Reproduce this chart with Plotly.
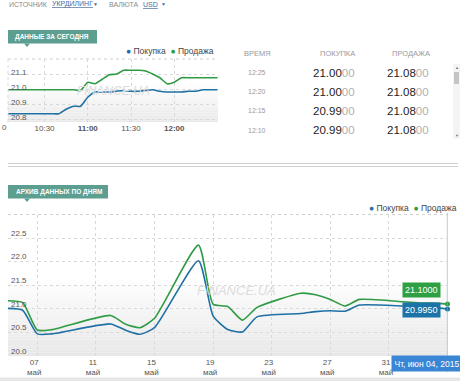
import plotly.graph_objects as go

W, H = 460, 381
def px(x): return x / W
def py(y): return 1 - y / H

BLUE = "#1f70a4"
GREEN = "#2f9b45"
BOX_GREEN = "#2ea043"
BOX_BLUE = "#1b73a8"
TEAL = "#5c9e8f"
FONT = "Liberation Sans, Arial, sans-serif"
NARROW = "Liberation Sans Narrow, Liberation Sans, Arial, sans-serif"

# ---------------- Data: today (intraday) ----------------
intraday_times = ["10:00", "10:05", "10:10", "10:15", "10:20", "10:25", "10:30", "10:35",
                  "10:40", "10:45", "10:50", "10:55", "11:00", "11:05", "11:10", "11:15",
                  "11:20", "11:25", "11:30", "11:35", "11:40", "11:45", "11:50", "11:55",
                  "12:00", "12:05", "12:10", "12:15", "12:20", "12:25", "12:30"]
intraday_buy = [20.84, 20.84, 20.84, 20.84, 20.84, 20.84, 20.84, 20.84,
                20.84, 20.87, 20.89, 20.89, 20.95, 20.985, 20.985, 20.985,
                20.99, 20.995, 20.99, 20.99, 20.995, 21.0, 20.99, 20.985,
                20.985, 20.985, 20.99, 20.99, 21.0, 21.0, 21.0]
intraday_sell = [21.0, 21.0, 21.0, 21.0, 21.0, 21.0, 21.0, 21.0,
                 21.0, 21.0, 21.0, 20.995, 21.05, 21.04, 21.07, 21.10,
                 21.105, 21.13, 21.13, 21.13, 21.125, 21.105, 21.08, 21.04,
                 21.05, 21.08, 21.08, 21.08, 21.08, 21.08, 21.08]
intraday_ticks = ["10:30", "11:00", "11:30", "12:00"]
intraday_ticktext = ["10:30", "<b>11:00</b>", "11:30", "<b>12:00</b>"]
intraday_yticks = [20.8, 20.9, 21.0, 21.1]

# ---------------- Data: table ----------------
table_times = ["12:25", "12:20", "12:15", "12:10"]
table_buy = [21.00, 21.00, 20.99, 20.99]
table_sell = [21.08, 21.08, 21.08, 21.08]

# ---------------- Data: daily archive ----------------
daily_dates = ["2015-05-05", "2015-05-06", "2015-05-07", "2015-05-08", "2015-05-12",
               "2015-05-13", "2015-05-14", "2015-05-15", "2015-05-18", "2015-05-19",
               "2015-05-20", "2015-05-21", "2015-05-22", "2015-05-25", "2015-05-26",
               "2015-05-27", "2015-05-28", "2015-05-29", "2015-06-01", "2015-06-02",
               "2015-06-03", "2015-06-04"]
daily_buy = [21.01, 20.97, 20.47, 20.47, 20.68, 20.55, 20.46, 20.60, 22.02, 20.85,
             20.56, 20.51, 20.83, 20.90, 20.94, 20.96, 20.95, 21.08, 21.06, 21.05,
             21.03, 20.995]
daily_sell = [21.17, 21.13, 20.55, 20.56, 20.86, 20.68, 20.60, 20.80, 22.35, 21.10,
              21.05, 20.76, 21.03, 21.33, 21.30, 21.20, 21.06, 21.20, 21.15, 21.13,
              21.12, 21.10]
daily_ticks = ["2015-05-07", "2015-05-11", "2015-05-15", "2015-05-19",
               "2015-05-23", "2015-05-27", "2015-05-31"]
daily_ticktext = ["07<br>май", "11<br>май", "15<br>май", "19<br>май",
                  "23<br>май", "27<br>май", "31<br>май"]
daily_yticks = [20.0, 20.5, 21.0, 21.5, 22.0, 22.5]
tooltip_text = "Чт, июн 04, 2015"

day = "2015-06-04 "
ix = [day + t for t in intraday_times]

fig = go.Figure()
spl = dict(shape="spline", smoothing=0.55)
fig.add_trace(go.Scatter(x=ix, y=intraday_sell, mode="lines", line=dict(color=GREEN, width=1.6, **spl),
                         xaxis="x", yaxis="y", hoverinfo="skip"))
fig.add_trace(go.Scatter(x=ix, y=intraday_buy, mode="lines", line=dict(color=BLUE, width=1.6, **spl),
                         xaxis="x", yaxis="y", hoverinfo="skip"))
fig.add_trace(go.Scatter(x=daily_dates, y=daily_sell, mode="lines", line=dict(color=GREEN, width=1.6, **spl),
                         xaxis="x2", yaxis="y2", hoverinfo="skip"))
fig.add_trace(go.Scatter(x=daily_dates, y=daily_buy, mode="lines", line=dict(color=BLUE, width=1.6, **spl),
                         xaxis="x2", yaxis="y2", hoverinfo="skip"))
fig.add_trace(go.Scatter(x=[daily_dates[-1]], y=[daily_sell[-1]], mode="markers",
                         marker=dict(color=GREEN, size=5), cliponaxis=False,
                         xaxis="x2", yaxis="y2", hoverinfo="skip"))
fig.add_trace(go.Scatter(x=[daily_dates[-1]], y=[daily_buy[-1]], mode="markers",
                         marker=dict(color=BLUE, size=5), cliponaxis=False,
                         xaxis="x2", yaxis="y2", hoverinfo="skip"))

grid = dict(showgrid=True, gridcolor="#d9d9d9", griddash="dot", gridwidth=1,
            zeroline=False, showline=False, ticks="", automargin=False)
tickf = dict(size=8, color="#555", family=FONT)

fig.update_layout(
    width=W, height=H, margin=dict(l=0, r=0, t=0, b=0, pad=0, autoexpand=False),
    paper_bgcolor="white", plot_bgcolor="white", showlegend=False,
    font=dict(family=FONT, color="#333"),
    xaxis=dict(domain=[px(8), px(218)], anchor="y", type="date",
               range=[day + "10:04:40", day + "12:30:20"],
               tickvals=[day + t for t in intraday_ticks], ticktext=intraday_ticktext,
               tickfont=tickf, **grid),
    yaxis=dict(domain=[py(122), py(59)], anchor="x", range=[20.785, 21.205],
               tickvals=intraday_yticks, ticktext=[f"{v:.1f}" for v in intraday_yticks],
               ticklabelposition="inside", ticklabelshift=-3, ticklabeloverflow="allow",
               tickfont=tickf, **grid),
    xaxis2=dict(domain=[px(8), px(447.5)], anchor="y2", type="date",
                range=["2015-05-05", "2015-06-04"],
                tickvals=daily_ticks, ticktext=daily_ticktext, ticklabelshift=-3,
                tickfont=tickf, **grid),
    yaxis2=dict(domain=[py(356), py(214.5)], anchor="x2", range=[20.0, 23.0],
                tickvals=daily_yticks, ticktext=[f"{v:.1f}" for v in daily_yticks],
                ticklabelposition="inside", ticklabelshift=-5, ticklabeloverflow="allow",
                tickfont=tickf, **grid),
)

shapes = []
# gradient backgrounds
def gradient(xr, yr, frac, n=24, dark=(232, 232, 232)):
    for i in range(n):
        t = 1 - i / n
        c = tuple(int(round(255 - (255 - d) * t)) for d in dark)
        shapes.append(dict(type="rect", xref=xr, yref=yr, x0=0, x1=1,
                           y0=frac * i / n, y1=frac * (i + 1) / n,
                           fillcolor=f"rgb{c}", line=dict(width=0), layer="below"))
gradient("x domain", "y domain", 0.6)
gradient("x2 domain", "y2 domain", 0.55)

# top borders (dotted)
for yr, xr in [("y domain", "x domain"), ("y2 domain", "x2 domain")]:
    shapes.append(dict(type="line", xref=xr, yref=yr, x0=0, x1=1, y0=1, y1=1,
                       line=dict(color="#d0d0d0", width=1, dash="dot")))
shapes.append(dict(type="line", xref="x domain", yref="y domain", x0=0, x1=0, y0=0, y1=1,
                   line=dict(color="#d9d9d9", width=1, dash="dot")))

# badges
shapes.append(dict(type="rect", xref="paper", yref="paper", x0=px(8), x1=px(97), y0=py(43.5), y1=py(30),
                   fillcolor=TEAL, line=dict(width=0)))
shapes.append(dict(type="path", xref="paper", yref="paper",
                   path=f"M {px(24)} {py(43.5)} L {px(30)} {py(43.5)} L {px(27)} {py(47)} Z",
                   fillcolor=TEAL, line=dict(width=0)))
shapes.append(dict(type="rect", xref="paper", yref="paper", x0=px(8), x1=px(108), y0=py(198.5), y1=py(185),
                   fillcolor=TEAL, line=dict(width=0)))
shapes.append(dict(type="path", xref="paper", yref="paper",
                   path=f"M {px(24)} {py(198.5)} L {px(30)} {py(198.5)} L {px(27)} {py(202)} Z",
                   fillcolor=TEAL, line=dict(width=0)))

# separator double line
for yy in (163.5, 166.5):
    shapes.append(dict(type="line", xref="paper", yref="paper", x0=px(8), x1=px(458), y0=py(yy), y1=py(yy),
                       line=dict(color="#cfcfcf", width=1)))

# scrollbar
shapes.append(dict(type="rect", xref="paper", yref="paper", x0=px(453), x1=px(460), y0=py(139), y1=py(64),
                   fillcolor="#f4f4f4", line=dict(width=0)))
shapes.append(dict(type="rect", xref="paper", yref="paper", x0=px(454), x1=px(459), y0=py(84), y1=py(72),
                   fillcolor="#c4c4c4", line=dict(width=0)))

# crosshair
shapes.append(dict(type="line", xref="x2", yref="paper", x0=daily_dates[-1], x1=daily_dates[-1],
                   y0=py(372), y1=py(213), line=dict(color="#8aaed6", width=1.2)))

# bottom bar
shapes.append(dict(type="rect", xref="paper", yref="paper", x0=0, x1=1, y0=0, y1=py(377.5),
                   fillcolor="#e6e6e6", line=dict(width=0)))

fig.update_layout(shapes=shapes)

ann = []
def A(x, y, text, size=8, color="#333", xanchor="center", family=FONT, **kw):
    ann.append(dict(x=px(x), y=py(y), xref="paper", yref="paper", text=text, showarrow=False,
                    xanchor=xanchor, yanchor="middle", font=dict(size=size, color=color, family=family), **kw))

# header
A(7, 4.5, "ИСТОЧНИК", 7, "#8a8a8a", "left")
A(50, 4.5, "<u>УКРДИЛИНГ</u>", 7, "#4a6a9a", "left")
A(95, 4.5, "▼", 5, "#4a6a9a")
A(107, 4.5, "ВАЛЮТА", 7, "#8a8a8a", "left")
A(141, 4.5, "<u>USD</u>", 7, "#4a6a9a", "left")
A(163, 4.5, "▼", 5, "#4a6a9a")

# badges text
A(13, 36.8, "<b>ДАННЫЕ ЗА СЕГОДНЯ</b>", 6.5, "white", "left", NARROW)
A(14, 191.8, "<b>АРХИВ ДАННЫХ ПО ДНЯМ</b>", 6.5, "white", "left", NARROW)

# legends
def legend_text():
    return (f"<span style='color:{BLUE}'>●</span> Покупка  "
            f"<span style='color:{GREEN}'>●</span> Продажа")
A(216, 50.5, legend_text(), 8.5, "#444", "right")
A(459, 208, legend_text(), 8.5, "#444", "right")

# watermarks
A(113, 91, "<i>FINANCE.UA</i>", 12, "#dcdcdc")
A(236, 290, "<i>FINANCE.UA</i>", 13, "#dcdcdc")

# "0" from clipped 10:00 label
A(0, 127.5, "0", 8, "#555", "left")

# table
A(257, 53.5, "ВРЕМЯ", 7.5, "#999")
A(337, 53.5, "ПОКУПКА", 7.5, "#999")
A(411, 53.5, "ПРОДАЖА", 7.5, "#999")
row_y = [73, 92, 111, 130]
def fmt(v):
    s = f"{v:.4f}"
    return f"{s[:5]}<span style='color:#b0b0b0'>{s[5:]}</span>"
for yy, t, b, s in zip(row_y, table_times, table_buy, table_sell):
    A(256.5, yy, t, 7, "#999")
    A(333.5, yy, fmt(b), 11.5, "#222")
    A(408, yy, fmt(s), 11.5, "#222")
A(456.5, 67.5, "▲", 4, "#777")
A(456.5, 135.5, "▼", 4, "#777")

fig.update_layout(annotations=ann)

# value labels at last points
fig.add_annotation(x=daily_dates[-1], y=daily_sell[-1], xref="x2", yref="y2",
                   text=f"{daily_sell[-1]:.4f}", showarrow=False, xshift=-26.5, yshift=14.5,
                   bgcolor=BOX_GREEN, borderpad=2, font=dict(size=9, color="white", family=FONT))
fig.add_annotation(x=daily_dates[-1], y=daily_buy[-1], xref="x2", yref="y2",
                   text=f"{daily_buy[-1]:.4f}", showarrow=False, xshift=-26.5, yshift=-0.5,
                   bgcolor=BOX_BLUE, borderpad=2, font=dict(size=9, color="white", family=FONT))
fig.add_annotation(x=px(391), y=py(363.5), xref="paper", yref="paper", text=tooltip_text,
                   showarrow=False, xanchor="left", yanchor="middle", bgcolor="#3a86d6",
                   borderpad=2.5, font=dict(size=8.5, color="white", family=FONT))

fig.write_html("out.html", config={"displayModeBar": False},
               post_script="document.body.style.margin='0';document.body.style.overflow='hidden';")
